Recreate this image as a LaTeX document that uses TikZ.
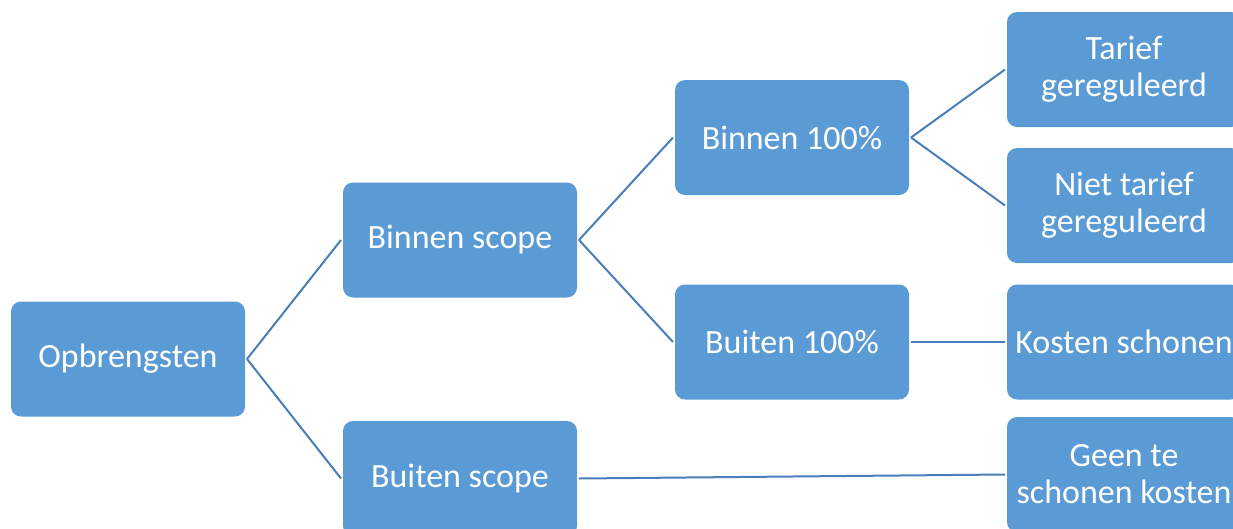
\documentclass[tikz,border=0pt]{standalone}
\usepackage{fontspec}
\setmainfont{Carlito}
\definecolor{boxblue}{HTML}{5B9BD5}
\definecolor{lineblue}{HTML}{4A7EBB}
\begin{document}
\begin{tikzpicture}[x=1pt,y=-1pt,
  box/.style={rectangle, rounded corners=10pt, fill=boxblue, text=white,
    minimum width=234pt, minimum height=115pt, align=center, inner sep=2pt,
    outer sep=2pt, font=\fontsize{34}{37}\selectfont},
  conn/.style={draw=lineblue, line width=2pt}]
\useasboundingbox (0,0) rectangle (1233,528);
\clip (0,0) rectangle (1233,528);
\node[box] (opb) at (128,359) {Opbrengsten};
\node[box] (bis) at (460,240) {Binnen scope};
\node[box] (bus) at (460,478.5) {Buiten scope};
\node[box] (bi100) at (792,137.5) {Binnen 100\%};
\node[box] (bu100) at (792,342) {Buiten 100\%};
\node[box] (tar) at (1124,69.5) {Tarief\\gereguleerd};
\node[box] (niet) at (1124,205.5) {Niet tarief\\gereguleerd};
\node[box] (kos) at (1124,342) {Kosten schonen};
\node[box] (geen) at (1124,474.5) {Geen te\\schonen kosten};
\draw[conn] (opb.east) -- (bis.west);
\draw[conn] (opb.east) -- (bus.west);
\draw[conn] (bis.east) -- (bi100.west);
\draw[conn] (bis.east) -- (bu100.west);
\draw[conn] (bi100.east) -- (tar.west);
\draw[conn] (bi100.east) -- (niet.west);
\draw[conn] (bu100.east) -- (kos.west);
\draw[conn] (bus.east) -- (geen.west);
\end{tikzpicture}
\end{document}
